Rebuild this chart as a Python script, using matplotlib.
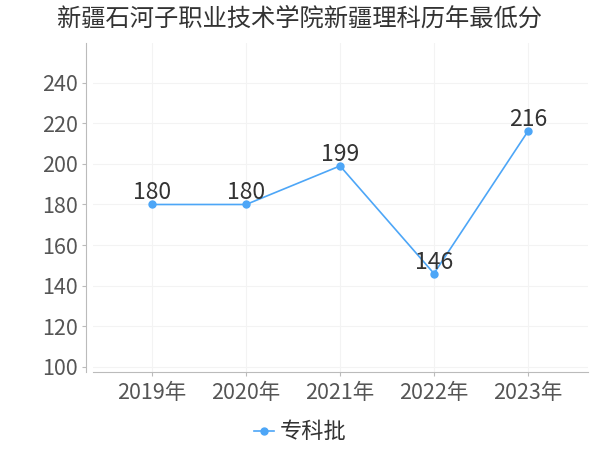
import matplotlib
matplotlib.use("Agg")
import matplotlib.pyplot as plt

plt.rcParams['font.family'] = ['Noto Sans CJK SC', 'DejaVu Sans']

title = "新疆石河子职业技术学院新疆理科历年最低分"
categories = ["2019年", "2020年", "2021年", "2022年", "2023年"]
values = [180, 180, 199, 146, 216]
series_name = "专科批"
yticks = [100, 120, 140, 160, 180, 200, 220, 240]

color = "#4da6f7"

fig = plt.figure(figsize=(6, 4.5), dpi=100)
ax = fig.add_axes([0.155, 0.1733, 0.825, 0.731])

x = list(range(len(categories)))
ax.plot(x, values, color=color, lw=1.2, marker='o', ms=5, label=series_name, zorder=3)
for xi, v in zip(x, values):
    ax.annotate(str(v), (xi, v), xytext=(0, 0), textcoords='offset points',
                ha='center', va='bottom', fontsize=16.5, color='#333333', zorder=4)

ax.set_xlim(-0.63, 4.64)
ax.set_ylim(97.5, 259.5)
ax.set_xticks(x)
ax.set_xticklabels(categories)
ax.set_yticks(yticks)
ax.tick_params(axis='both', labelsize=15.5, colors='#bbbbbb', labelcolor='#555555', length=3)
ax.tick_params(axis='x', pad=4)
ax.tick_params(axis='y', pad=3)

ax.grid(True, color='#f3f3f3', lw=0.8)
ax.set_axisbelow(True)
for s in ['top', 'right']:
    ax.spines[s].set_visible(False)
ax.spines['left'].set_position(('outward', 5))
ax.spines['left'].set_color('#bbbbbb')
ax.spines['bottom'].set_color('#bbbbbb')

fig.text(0.5, 0.958, title, ha='center', va='center', fontsize=17.5, color='#333333')

leg = fig.legend(loc='center', bbox_to_anchor=(0.5, 0.04), frameon=False,
                 fontsize=16, handlelength=0.9, handletextpad=0.25)
for t in leg.get_texts():
    t.set_color('#333333')

fig.savefig("out.png", dpi=100)
